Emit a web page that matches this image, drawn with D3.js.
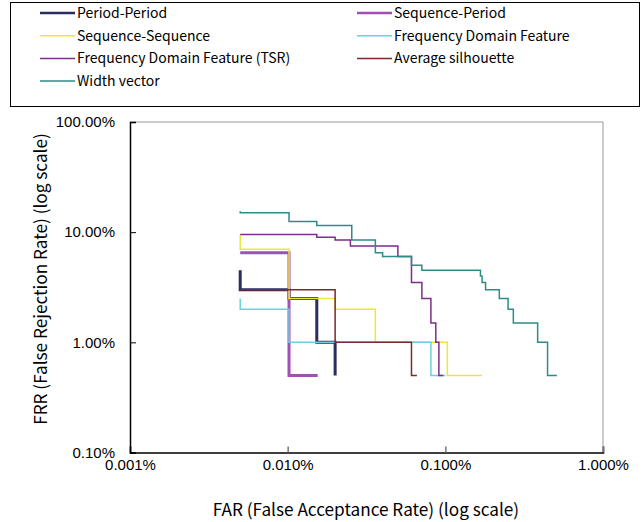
<!DOCTYPE html>
<html>
<head>
<meta charset="utf-8">
<script src="https://cdn.jsdelivr.net/npm/d3@7"></script>
<style>
body { margin: 0; background: #fff; }
svg text { fill: #000; }
</style>
</head>
<body>
<script>
// FAR (%) , FRR (%) step points
var periodPeriod = [[0.005,4.5],[0.005,3.0],[0.0102,2.5],[0.0153,1.0],[0.0200,0.5]];
var sequencePeriod = [[0.005,6.5],[0.0102,0.5],[0.0155,0.5]];
var sequenceSequence = [[0.005,9.5],[0.005,7.0],[0.0102,2.5],[0.020,2.0],[0.036,1.0],[0.103,0.5],[0.171,0.5]];
var freqDomain = [[0.005,2.5],[0.005,2.0],[0.0102,1.0],[0.081,0.5],[0.100,0.5]];
var freqDomainTSR = [[0.005,9.5],[0.0153,9.0],[0.020,8.5],[0.025,7.5],[0.050,6.0],[0.061,3.5],[0.071,2.5],[0.081,1.5],[0.087,1.0],[0.091,0.5],[0.097,0.5]];
var avgSilhouette = [[0.005,3.0],[0.020,1.0],[0.061,0.5],[0.066,0.5]];
var widthVector = [[0.005,15.5],[0.005,15],[0.0102,12.5],[0.0153,11.5],[0.0255,8.5],[0.036,6.5],[0.040,6.0],[0.061,5.0],[0.071,4.5],[0.167,4.0],[0.171,3.5],[0.180,3.0],[0.220,2.5],[0.250,2.0],[0.270,1.5],[0.385,1.0],[0.445,0.5],[0.510,0.5]];

var seriesNames = ["Period-Period","Sequence-Period","Sequence-Sequence","Frequency Domain Feature","Frequency Domain Feature (TSR)","Average silhouette","Width vector"];
var seriesData = [periodPeriod, sequencePeriod, sequenceSequence, freqDomain, freqDomainTSR, avgSilhouette, widthVector];
var seriesColors = ["#2b2d5e","#a24fb2","#f0e63a","#6dcfdc","#7e2d8c","#7a2a2a","#2e8b88"];
var seriesWidths = [3, 3, 1.5, 1.5, 1.5, 1.5, 1.5];

var xTicks = [0.001, 0.01, 0.1, 1];
var xTickLabels = ["0.001%","0.010%","0.100%","1.000%"];
var yTicks = [0.1, 1, 10, 100];
var yTickLabels = ["0.10%","1.00%","10.00%","100.00%"];

var width = 644, height = 522;
var svg = d3.select("body").append("svg").attr("width", width).attr("height", height);

var x = d3.scaleLog().domain([0.001, 1]).range([130, 603]);
var y = d3.scaleLog().domain([0.1, 100]).range([452.5, 122]);

// legend box
svg.append("rect").attr("x", 10.5).attr("y", 2.5).attr("width", 629).attr("height", 104)
    .attr("fill", "none").attr("stroke", "#000").attr("stroke-width", 1);

var legend = svg.append("g").attr("class", "legend")
    .selectAll("g")
    .data(seriesNames)
    .enter().append("g")
        .attr("transform", function(d, i){ return "translate(" + (i % 2 ? 357 : 40) + "," + (13 + Math.floor(i/2)*22.7) + ")"; });
legend.append("line")
    .attr("x1", 0).attr("x2", 35).attr("y1", 0).attr("y2", 0)
    .attr("stroke", function(d, i){ return seriesColors[i]; })
    .attr("stroke-width", function(d, i){ return i < 2 ? 2.5 : 1.5; });
legend.append("text")
    .attr("x", 37).attr("y", 0).attr("dy", "0.36em")
    .style("font-family", "'Noto Sans CJK JP', 'DejaVu Sans', sans-serif")
    .style("font-size", "14px")
    .text(function(d){ return d; });

// frame
svg.append("line").attr("x1", 130).attr("x2", 603).attr("y1", 122).attr("y2", 122).attr("stroke", "#999");
svg.append("line").attr("x1", 603).attr("x2", 603).attr("y1", 122).attr("y2", 452.5).attr("stroke", "#999");

var xAxis = d3.axisBottom(x).tickValues(xTicks).tickSize(-6).tickFormat(function(d, i){ return xTickLabels[i]; });
var gx = svg.append("g").attr("transform", "translate(0,452.5)").call(xAxis);
gx.select(".domain").attr("stroke", "#000").attr("stroke-width", 1.5);
gx.selectAll(".tick line").attr("stroke", "#777").attr("stroke-width", 1.5);
gx.selectAll(".tick text").attr("y", 7)
    .style("font-family", "'Liberation Sans', Arial, sans-serif").style("font-size", "15px");

var yAxis = d3.axisLeft(y).tickValues(yTicks).tickSize(-6).tickFormat(function(d, i){ return yTickLabels[i]; });
var gy = svg.append("g").attr("transform", "translate(130,0)").call(yAxis);
gy.select(".domain").attr("stroke", "#000").attr("stroke-width", 1.5);
gy.selectAll(".tick line").attr("stroke", "#000").attr("stroke-width", 1);
gy.selectAll(".tick text").attr("x", -15)
    .style("font-family", "'Liberation Sans', Arial, sans-serif").style("font-size", "15px");

// axis titles
svg.append("text").attr("x", 366).attr("y", 516).attr("text-anchor", "middle")
    .style("font-family", "'Noto Sans CJK JP', sans-serif").style("font-size", "17.2px")
    .text("FAR (False Acceptance Rate) (log scale)");
svg.append("text").attr("transform", "translate(47,279) rotate(-90)").attr("text-anchor", "middle")
    .style("font-family", "'Noto Sans CJK JP', sans-serif").style("font-size", "17.2px")
    .text("FRR (False Rejection Rate) (log scale)");

var line = d3.line()
    .x(function(d){ return x(d[0]); })
    .y(function(d){ return y(d[1]); })
    .curve(d3.curveStepAfter);

svg.append("g").attr("class", "series")
    .selectAll("path")
    .data(seriesData)
    .enter().append("path")
        .attr("fill", "none")
        .attr("stroke", function(d, i){ return seriesColors[i]; })
        .attr("stroke-width", function(d, i){ return seriesWidths[i]; })
        .attr("d", line);
</script>
</body>
</html>
